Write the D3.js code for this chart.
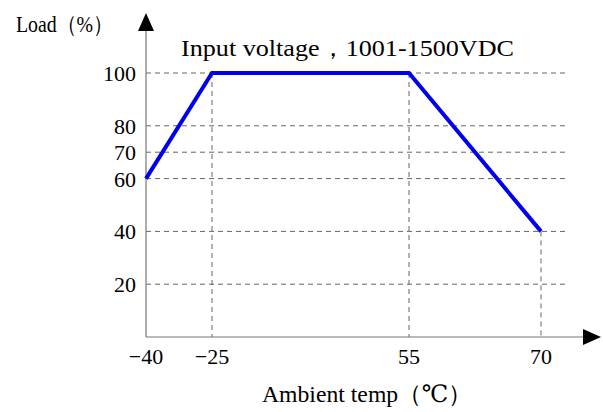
<!DOCTYPE html>
<html><head><meta charset="utf-8">
<script src="https://cdn.jsdelivr.net/npm/d3@7"></script>
<style>body{margin:0;background:#fff}</style>
</head><body>
<svg id="c" width="604" height="412"></svg>
<script>
const temps = [-40, -25, 55, 70];
const loads = [60, 100, 100, 40];
const xTickLabels = ["-40", "-25", "55", "70"];
const yTicks = [20, 40, 60, 70, 80, 100];
const title = "Input voltage，1001-1500VDC";
const yLabel = "Load（%）";
const xLabel = "Ambient temp（℃）";

const svg = d3.select("#c");
const font = "'Liberation Serif','DejaVu Serif',serif";
const x = d3.scaleLinear().domain(temps).range([146, 212, 409, 541]);
const y = d3.scaleLinear().domain([0, 100]).range([337, 73]);
const x0 = 146, y0 = 337, gridEnd = 568;

// horizontal grid
svg.selectAll(".hg").data(yTicks).enter().append("line")
  .attr("x1", x0).attr("x2", gridEnd)
  .attr("y1", d => y(d)).attr("y2", d => y(d))
  .attr("stroke", "#666").attr("stroke-width", 1).attr("stroke-dasharray", "5,4");
// vertical drop lines
const pts = temps.map((t, i) => ({t, l: loads[i]}));
svg.selectAll(".vg").data(pts.slice(1)).enter().append("line")
  .attr("x1", d => x(d.t)).attr("x2", d => x(d.t))
  .attr("y1", d => y(d.l)).attr("y2", y0)
  .attr("stroke", "#666").attr("stroke-width", 1).attr("stroke-dasharray", "5,4");

// axes
svg.append("line").attr("x1", x0).attr("x2", x0).attr("y1", y0).attr("y2", 28).attr("stroke", "#777").attr("stroke-width", 1.2);
svg.append("line").attr("x1", x0).attr("x2", 586).attr("y1", y0).attr("y2", y0).attr("stroke", "#777").attr("stroke-width", 1.2);
svg.append("path").attr("d", `M${x0},13 L${x0-8},31 L${x0+8},31 Z`).attr("fill", "#000");
svg.append("path").attr("d", `M601,${y0} L583,${y0-8} L583,${y0+8} Z`).attr("fill", "#000");

// line
svg.append("path").datum(pts)
  .attr("d", d3.line().x(d => x(d.t)).y(d => y(d.l)))
  .attr("fill", "none").attr("stroke", "#0000ee").attr("stroke-width", 4).attr("stroke-linejoin", "miter");

// y tick labels
svg.selectAll(".yt").data(yTicks).enter().append("text")
  .attr("x", 136).attr("y", d => y(d) + 8)
  .attr("text-anchor", "end").attr("font-family", font).attr("font-size", 22)
  .text(d => d);
// x tick labels
svg.selectAll(".xt").data(temps).enter().append("text")
  .attr("x", d => x(d)).attr("y", 364)
  .attr("text-anchor", "middle").attr("font-family", font).attr("font-size", 22)
  .text((d, i) => xTickLabels[i].replace("-", "−"));

svg.append("text").attr("x", 16).attr("y", 32).attr("font-family", font).attr("font-size", 23)
  .attr("textLength", 97).attr("lengthAdjust", "spacingAndGlyphs").text(yLabel);
svg.append("text").attr("x", 181).attr("y", 56).attr("font-family", font).attr("font-size", 24)
  .attr("textLength", 333).attr("lengthAdjust", "spacingAndGlyphs").text(title);
svg.append("text").attr("x", 262).attr("y", 402).attr("font-family", font).attr("font-size", 24)
  .attr("textLength", 210).attr("lengthAdjust", "spacingAndGlyphs").text(xLabel);
</script>
</body></html>
